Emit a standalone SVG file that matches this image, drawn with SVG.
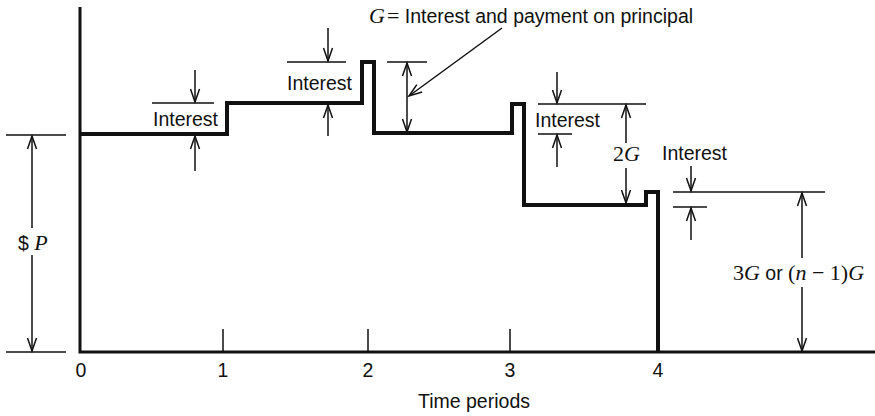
<svg xmlns="http://www.w3.org/2000/svg" width="875" height="416" viewBox="0 0 875 416">
<style>
.sans{font-family:"Liberation Sans",Arial,sans-serif;font-size:19.5px;fill:#111}
.serif{font-family:"Liberation Serif","Times New Roman",serif;font-size:22px}
.it{font-style:italic}
.thin{stroke:#111;stroke-width:1.5;fill:none}
.arr{stroke:#111;stroke-width:1.5;fill:none;marker-end:url(#ah)}
.axis{stroke:#111;stroke-width:3;fill:none}
.step{stroke:#111;stroke-width:4;fill:none;stroke-linejoin:miter}
</style>
<defs>
<marker id="ah" markerUnits="userSpaceOnUse" markerWidth="16" markerHeight="12" refX="0" refY="0" viewBox="-14 -6 16 12" orient="auto" overflow="visible">
<path d="M-13,-4.5 L0,0 L-13,4.5" fill="none" stroke="#111" stroke-width="1.5"/>
</marker>
</defs>
<rect width="875" height="416" fill="#fff"/>

<g id="axes">
<path class="axis" d="M80,7 V352 H875"/>
<path class="thin" d="M223,329 V352 M368,329 V352 M510,329 V352"/>
</g>

<g id="tick-labels" class="sans" text-anchor="middle">
<text x="81" y="377">0</text>
<text x="223" y="377">1</text>
<text x="368" y="377">2</text>
<text x="510" y="377">3</text>
<text x="658" y="377">4</text>
<text x="474" y="408">Time periods</text>
</g>

<g id="balance-step">
<path class="step" d="M80,134 H227 V103 H362 V62 H374 V133 H512 V104 H524 V205 H646 V192 H658 V352"/>
</g>

<g id="connectors">
<!-- $P -->
<path class="thin" d="M6,135 H66 M6,352 H66"/>
<path class="arr" d="M32,228 V136"/>
<path class="arr" d="M32,255 V351"/>
<!-- Interest 1 -->
<path class="thin" d="M152,103 H214"/>
<path class="arr" d="M195,70 V102"/>
<path class="arr" d="M195,171 V136"/>
<!-- Interest 2 -->
<path class="thin" d="M287,62 H346"/>
<path class="arr" d="M328,28 V61"/>
<path class="arr" d="M328,136 V105"/>
<!-- G -->
<path class="thin" d="M387,62 H427"/>
<path class="arr" d="M407,98 V63"/>
<path class="arr" d="M407,98 V132"/>
<path class="arr" d="M502,28 L409,96"/>
<!-- Interest 3 -->
<path class="thin" d="M538,104 H646 M538,134 H572"/>
<path class="arr" d="M557,72 V103"/>
<path class="arr" d="M557,167 V135"/>
<!-- 2G -->
<path class="arr" d="M626,143 V105"/>
<path class="arr" d="M626,168 V203"/>
<!-- Interest 4 -->
<path class="thin" d="M673,192 H825 M673,207 H707"/>
<path class="arr" d="M691,166 V191"/>
<path class="arr" d="M691,240 V208"/>
<!-- 3G -->
<path class="arr" d="M802,258 V193"/>
<path class="arr" d="M802,287 V351"/>
</g>

<g id="labels" class="sans">
<text x="153" y="126">Interest</text>
<text x="287" y="90">Interest</text>
<text x="535" y="127">Interest</text>
<text x="662" y="160">Interest</text>
<text x="613" y="161"><tspan class="serif">2</tspan><tspan class="serif it">G</tspan></text>
<text x="733" y="280"><tspan class="serif">3</tspan><tspan class="serif it">G</tspan> or <tspan class="serif">(</tspan><tspan class="serif it">n</tspan><tspan class="serif"> − 1)</tspan><tspan class="serif it">G</tspan></text>
<text x="18" y="250">$ <tspan class="serif it">P</tspan></text>
<text x="369" y="23"><tspan class="serif it">G</tspan><tspan class="serif" dx="2">=</tspan> Interest and payment on principal</text>
</g>
</svg>
